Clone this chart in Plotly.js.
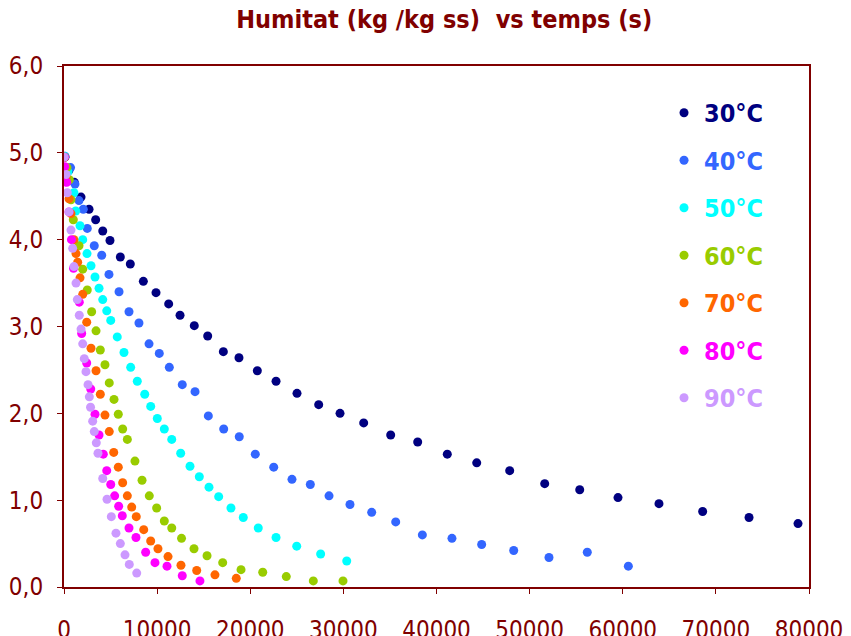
<!DOCTYPE html>
<html>
<head>
<meta charset="utf-8">
<script src="https://cdn.plot.ly/plotly-3.0.1.min.js"></script>
<style>
  html, body { margin: 0; padding: 0; background: #ffffff; }
  #chart { width: 851px; height: 636px; }
</style>
</head>
<body>
<div id="chart"></div>
<script>
// Moisture content (kg water / kg dry solid) against drying time (s), one series per temperature.
const labels = ["30°C", "40°C", "50°C", "60°C", "70°C", "80°C", "90°C"];
const colors = ["#000080", "#3366FF", "#00FFFF", "#99CC00", "#FF6600", "#FF00FF", "#CC99FF"];

const t30 = [100, 530, 1110, 1830, 2690, 3400, 4160, 4940, 6050, 7120, 8520, 9880, 11240, 12460, 13990, 15430, 17110, 18790, 20760, 22770, 25020, 27350, 29640, 32180, 35080, 37980, 41160, 44320, 47860, 51620, 55380, 59490, 63890, 68580, 73560, 78820];
const h30 = [4.95, 4.80, 4.66, 4.49, 4.35, 4.23, 4.10, 3.99, 3.80, 3.72, 3.52, 3.39, 3.26, 3.13, 3.01, 2.89, 2.71, 2.64, 2.49, 2.37, 2.23, 2.10, 2.00, 1.89, 1.75, 1.67, 1.53, 1.43, 1.34, 1.19, 1.12, 1.03, 0.96, 0.87, 0.80, 0.73];

const t40 = [110, 700, 1180, 1610, 2070, 2500, 3250, 4050, 4830, 5910, 6980, 8050, 9130, 10230, 11310, 12700, 14070, 15500, 17150, 18820, 20540, 22520, 24480, 26450, 28460, 30710, 33040, 35620, 38480, 41660, 44850, 48290, 52080, 56190, 60600];
const h40 = [4.96, 4.83, 4.64, 4.45, 4.35, 4.13, 3.93, 3.82, 3.60, 3.40, 3.17, 3.04, 2.80, 2.69, 2.53, 2.33, 2.25, 1.97, 1.82, 1.73, 1.53, 1.38, 1.24, 1.18, 1.05, 0.95, 0.86, 0.75, 0.60, 0.56, 0.49, 0.42, 0.34, 0.40, 0.24];

const t50 = [50, 430, 1070, 1260, 1720, 2010, 2470, 2900, 3330, 3760, 4160, 4590, 5020, 5720, 6440, 7160, 7870, 8670, 9310, 10020, 10770, 11570, 12530, 13530, 14530, 15570, 16610, 17930, 19250, 20860, 22770, 24990, 27560, 30360];
const h50 = [4.96, 4.78, 4.54, 4.33, 4.16, 4.00, 3.84, 3.70, 3.57, 3.44, 3.31, 3.18, 3.07, 2.88, 2.70, 2.53, 2.37, 2.22, 2.08, 1.94, 1.82, 1.70, 1.54, 1.39, 1.27, 1.15, 1.04, 0.91, 0.80, 0.68, 0.57, 0.47, 0.38, 0.30];

const t60 = [50, 320, 570, 750, 1000, 1610, 2010, 2500, 2970, 3440, 3900, 4400, 4860, 5370, 5830, 6300, 6800, 7620, 8380, 9160, 9950, 10770, 11570, 12620, 13960, 15360, 17040, 19010, 21340, 23870, 26770, 29960];
const h60 = [4.95, 4.83, 4.69, 4.46, 4.23, 3.93, 3.66, 3.42, 3.17, 2.95, 2.73, 2.56, 2.35, 2.16, 1.99, 1.82, 1.70, 1.45, 1.23, 1.05, 0.91, 0.76, 0.68, 0.56, 0.44, 0.36, 0.28, 0.20, 0.17, 0.12, 0.07, 0.07];

const t70 = [50, 220, 540, 750, 1070, 1290, 1470, 1720, 2010, 2440, 2900, 3440, 3900, 4400, 4860, 5340, 5830, 6300, 6800, 7270, 7760, 8560, 9310, 10090, 11170, 12560, 14250, 16210, 18500];
const h70 = [4.95, 4.72, 4.47, 4.30, 4.00, 3.84, 3.74, 3.56, 3.37, 3.05, 2.75, 2.49, 2.22, 1.98, 1.79, 1.55, 1.38, 1.20, 1.05, 0.92, 0.81, 0.66, 0.53, 0.44, 0.35, 0.25, 0.19, 0.14, 0.10];

const t80 = [30, 80, 290, 540, 800, 1020, 1640, 1900, 2440, 2870, 3330, 3760, 4220, 4590, 5020, 5440, 5870, 6260, 6980, 7730, 8770, 9770, 11060, 12700, 14600];
const h80 = [4.95, 4.84, 4.66, 4.32, 4.00, 3.67, 3.28, 2.92, 2.58, 2.28, 1.99, 1.75, 1.53, 1.34, 1.18, 1.05, 0.93, 0.82, 0.68, 0.57, 0.40, 0.28, 0.24, 0.13, 0.07];

const t90 = [0, 220, 350, 540, 750, 930, 1070, 1290, 1430, 1640, 1830, 2010, 2180, 2360, 2580, 2720, 2850, 3080, 3250, 3470, 3650, 4160, 4620, 5080, 5580, 6050, 6550, 7010, 7810];
const h90 = [4.95, 4.75, 4.54, 4.32, 4.11, 3.90, 3.69, 3.50, 3.31, 3.13, 2.97, 2.80, 2.63, 2.48, 2.33, 2.19, 2.07, 1.91, 1.79, 1.66, 1.54, 1.25, 1.01, 0.81, 0.62, 0.50, 0.37, 0.26, 0.16];

const times = [t30, t40, t50, t60, t70, t80, t90];
const moisture = [h30, h40, h50, h60, h70, h80, h90];

const DARK_RED = "#800000";
const FONT = "'DejaVu Sans Condensed', 'Liberation Sans', sans-serif";

const traces = labels.map((name, i) => ({
  type: "scatter",
  mode: "markers",
  x: times[i],
  y: moisture[i],
  name: "<b><span style='color:" + colors[i] + "'>" + name + "</span></b>",
  legendgroup: "g" + i,
  marker: { color: colors[i], size: 9 },
  hoverinfo: "x+y"
}));

const axisCommon = {
  showline: true,
  mirror: true,
  linecolor: DARK_RED,
  linewidth: 2,
  showgrid: false,
  zeroline: false,
  ticks: "outside",
  ticklen: 5,
  tickwidth: 1,
  tickcolor: DARK_RED,
  tickfont: { family: FONT, size: 24, color: DARK_RED }
};

const layout = {
  width: 851,
  height: 636,
  margin: { l: 64, r: 42, t: 66, b: 49 },
  paper_bgcolor: "#ffffff",
  plot_bgcolor: "#ffffff",
  separators: ",.",
  title: {
    text: "<b>Humitat (kg /kg ss)&nbsp; vs temps (s)</b>",
    font: { family: FONT, size: 25, color: DARK_RED },
    xref: "container", x: 0.522, xanchor: "center",
    yref: "container", y: 1 - 19 / 636, yanchor: "middle"
  },
  xaxis: Object.assign({}, axisCommon, {
    range: [0, 80000],
    dtick: 10000,
    tick0: 0,
    tickformat: "d",
    ticklabelstandoff: 15
  }),
  yaxis: Object.assign({}, axisCommon, {
    range: [0, 6],
    dtick: 1,
    tick0: 0,
    tickformat: ".1f",
    ticklabelstandoff: 9
  }),
  showlegend: true,
  legend: {
    x: 0.8054, xanchor: "left",
    y: 0.954, yanchor: "top",
    bgcolor: "rgba(0,0,0,0)",
    borderwidth: 0,
    traceorder: "grouped",
    tracegroupgap: 12,
    font: { family: FONT, size: 25, color: DARK_RED }
  }
};

Plotly.newPlot("chart", traces, layout, { displayModeBar: false, staticPlot: true });
</script>
</body>
</html>
